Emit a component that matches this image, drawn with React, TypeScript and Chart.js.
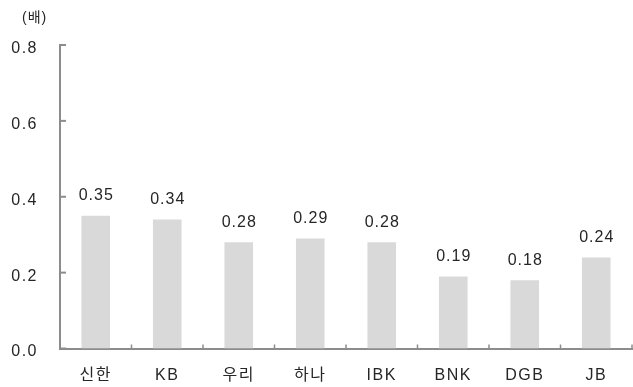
import React, { useEffect, useRef } from "react";
import { Chart, registerables } from "chart.js";

Chart.register(...registerables);

const categories = ["신한", "KB", "우리", "하나", "IBK", "BNK", "DGB", "JB"];
const values = [0.35, 0.34, 0.28, 0.29, 0.28, 0.19, 0.18, 0.24];
const unitLabel = "(배)";
const yMin = 0;
const yMax = 0.8;
const yStep = 0.2;

const FONT = "'Liberation Sans', 'Noto Sans CJK KR', sans-serif";
const TEXT = "#262626";
const AXIS = "#8c8c8c";
const BAR = "#d9d9d9";

const decorPlugin = {
  id: "decor",
  beforeDraw(chart: any) {
    chart.ctx.letterSpacing = "1.5px";
  },
  afterDraw(chart: any) {
    const ctx = chart.ctx;
    const xs = chart.scales.x;
    const ys = chart.scales.y;
    const area = chart.chartArea;
    ctx.save();
    ctx.strokeStyle = AXIS;
    ctx.lineWidth = 2;
    // inner y ticks + labels
    ctx.fillStyle = TEXT;
    ctx.font = `16px ${FONT}`;
    ctx.textAlign = "right";
    ctx.textBaseline = "middle";
    ctx.letterSpacing = "1.5px";
    ys.ticks.forEach((t: any, i: number) => {
      const y = ys.getPixelForTick(i);
      ctx.beginPath();
      ctx.moveTo(area.left, y);
      ctx.lineTo(area.left + 6, y);
      ctx.stroke();
      ctx.fillText(Number(t.value).toFixed(1), area.left - 22, y + 3.5);
    });
    // inner x ticks at category boundaries
    ctx.lineWidth = 1.5;
    for (let i = 1; i <= categories.length; i++) {
      const x = (xs.getPixelForValue(i - 1) + xs.getPixelForValue(i)) / 2;
      ctx.beginPath();
      ctx.moveTo(x, area.bottom);
      ctx.lineTo(x, area.bottom - 4);
      ctx.stroke();
    }
    // unit label
    ctx.font = `14px ${FONT}`;
    ctx.textAlign = "left";
    ctx.textBaseline = "middle";
    ctx.letterSpacing = "1px";
    ctx.fillText(unitLabel, area.left - 38, 18);
    ctx.restore();
  },
  afterDatasetsDraw(chart: any) {
    const ctx = chart.ctx;
    const meta = chart.getDatasetMeta(0);
    ctx.save();
    ctx.fillStyle = TEXT;
    ctx.font = `16px ${FONT}`;
    ctx.textAlign = "center";
    ctx.textBaseline = "bottom";
    ctx.letterSpacing = "1px";
    meta.data.forEach((el: any, i: number) => {
      ctx.fillText(values[i].toFixed(2), el.x + 0.5, el.y - 12);
    });
    ctx.restore();
  },
};

export default function App() {
  const ref = useRef<HTMLCanvasElement>(null);
  useEffect(() => {
    const chart = new Chart(ref.current as HTMLCanvasElement, {
      type: "bar",
      data: {
        labels: categories,
        datasets: [
          {
            data: values,
            backgroundColor: BAR,
            borderWidth: 0,
            barPercentage: 0.8,
            categoryPercentage: 0.5,
          },
        ],
      },
      options: {
        animation: false,
        responsive: false,
        maintainAspectRatio: false,
        devicePixelRatio: 1,
        layout: { padding: { top: 45, right: 1, left: 0, bottom: 0 } },
        plugins: {
          legend: { display: false },
          tooltip: { enabled: false },
        },
        scales: {
          x: {
            grid: { display: false, drawTicks: false },
            border: { display: true, color: AXIS, width: 2 },
            ticks: {
              color: TEXT,
              font: { family: FONT, size: 16 },
              padding: 17,
              maxRotation: 0,
            },
            afterFit: (s: any) => {
              s.height = 38.5;
            },
          },
          y: {
            min: yMin,
            max: yMax,
            grid: { display: false, drawTicks: false },
            border: { display: true, color: AXIS, width: 2 },
            ticks: {
              stepSize: yStep,
              display: false,
            },
            afterFit: (s: any) => {
              s.width = 60;
            },
          },
        },
      },
      plugins: [decorPlugin],
    });
    return () => chart.destroy();
  }, []);
  return (
    <div style={{ position: "fixed", left: 0, top: 0, width: 633, height: 387, background: "#fff" }}>
      <canvas ref={ref} width={633} height={387} style={{ width: 633, height: 387, display: "block" }} />
    </div>
  );
}
